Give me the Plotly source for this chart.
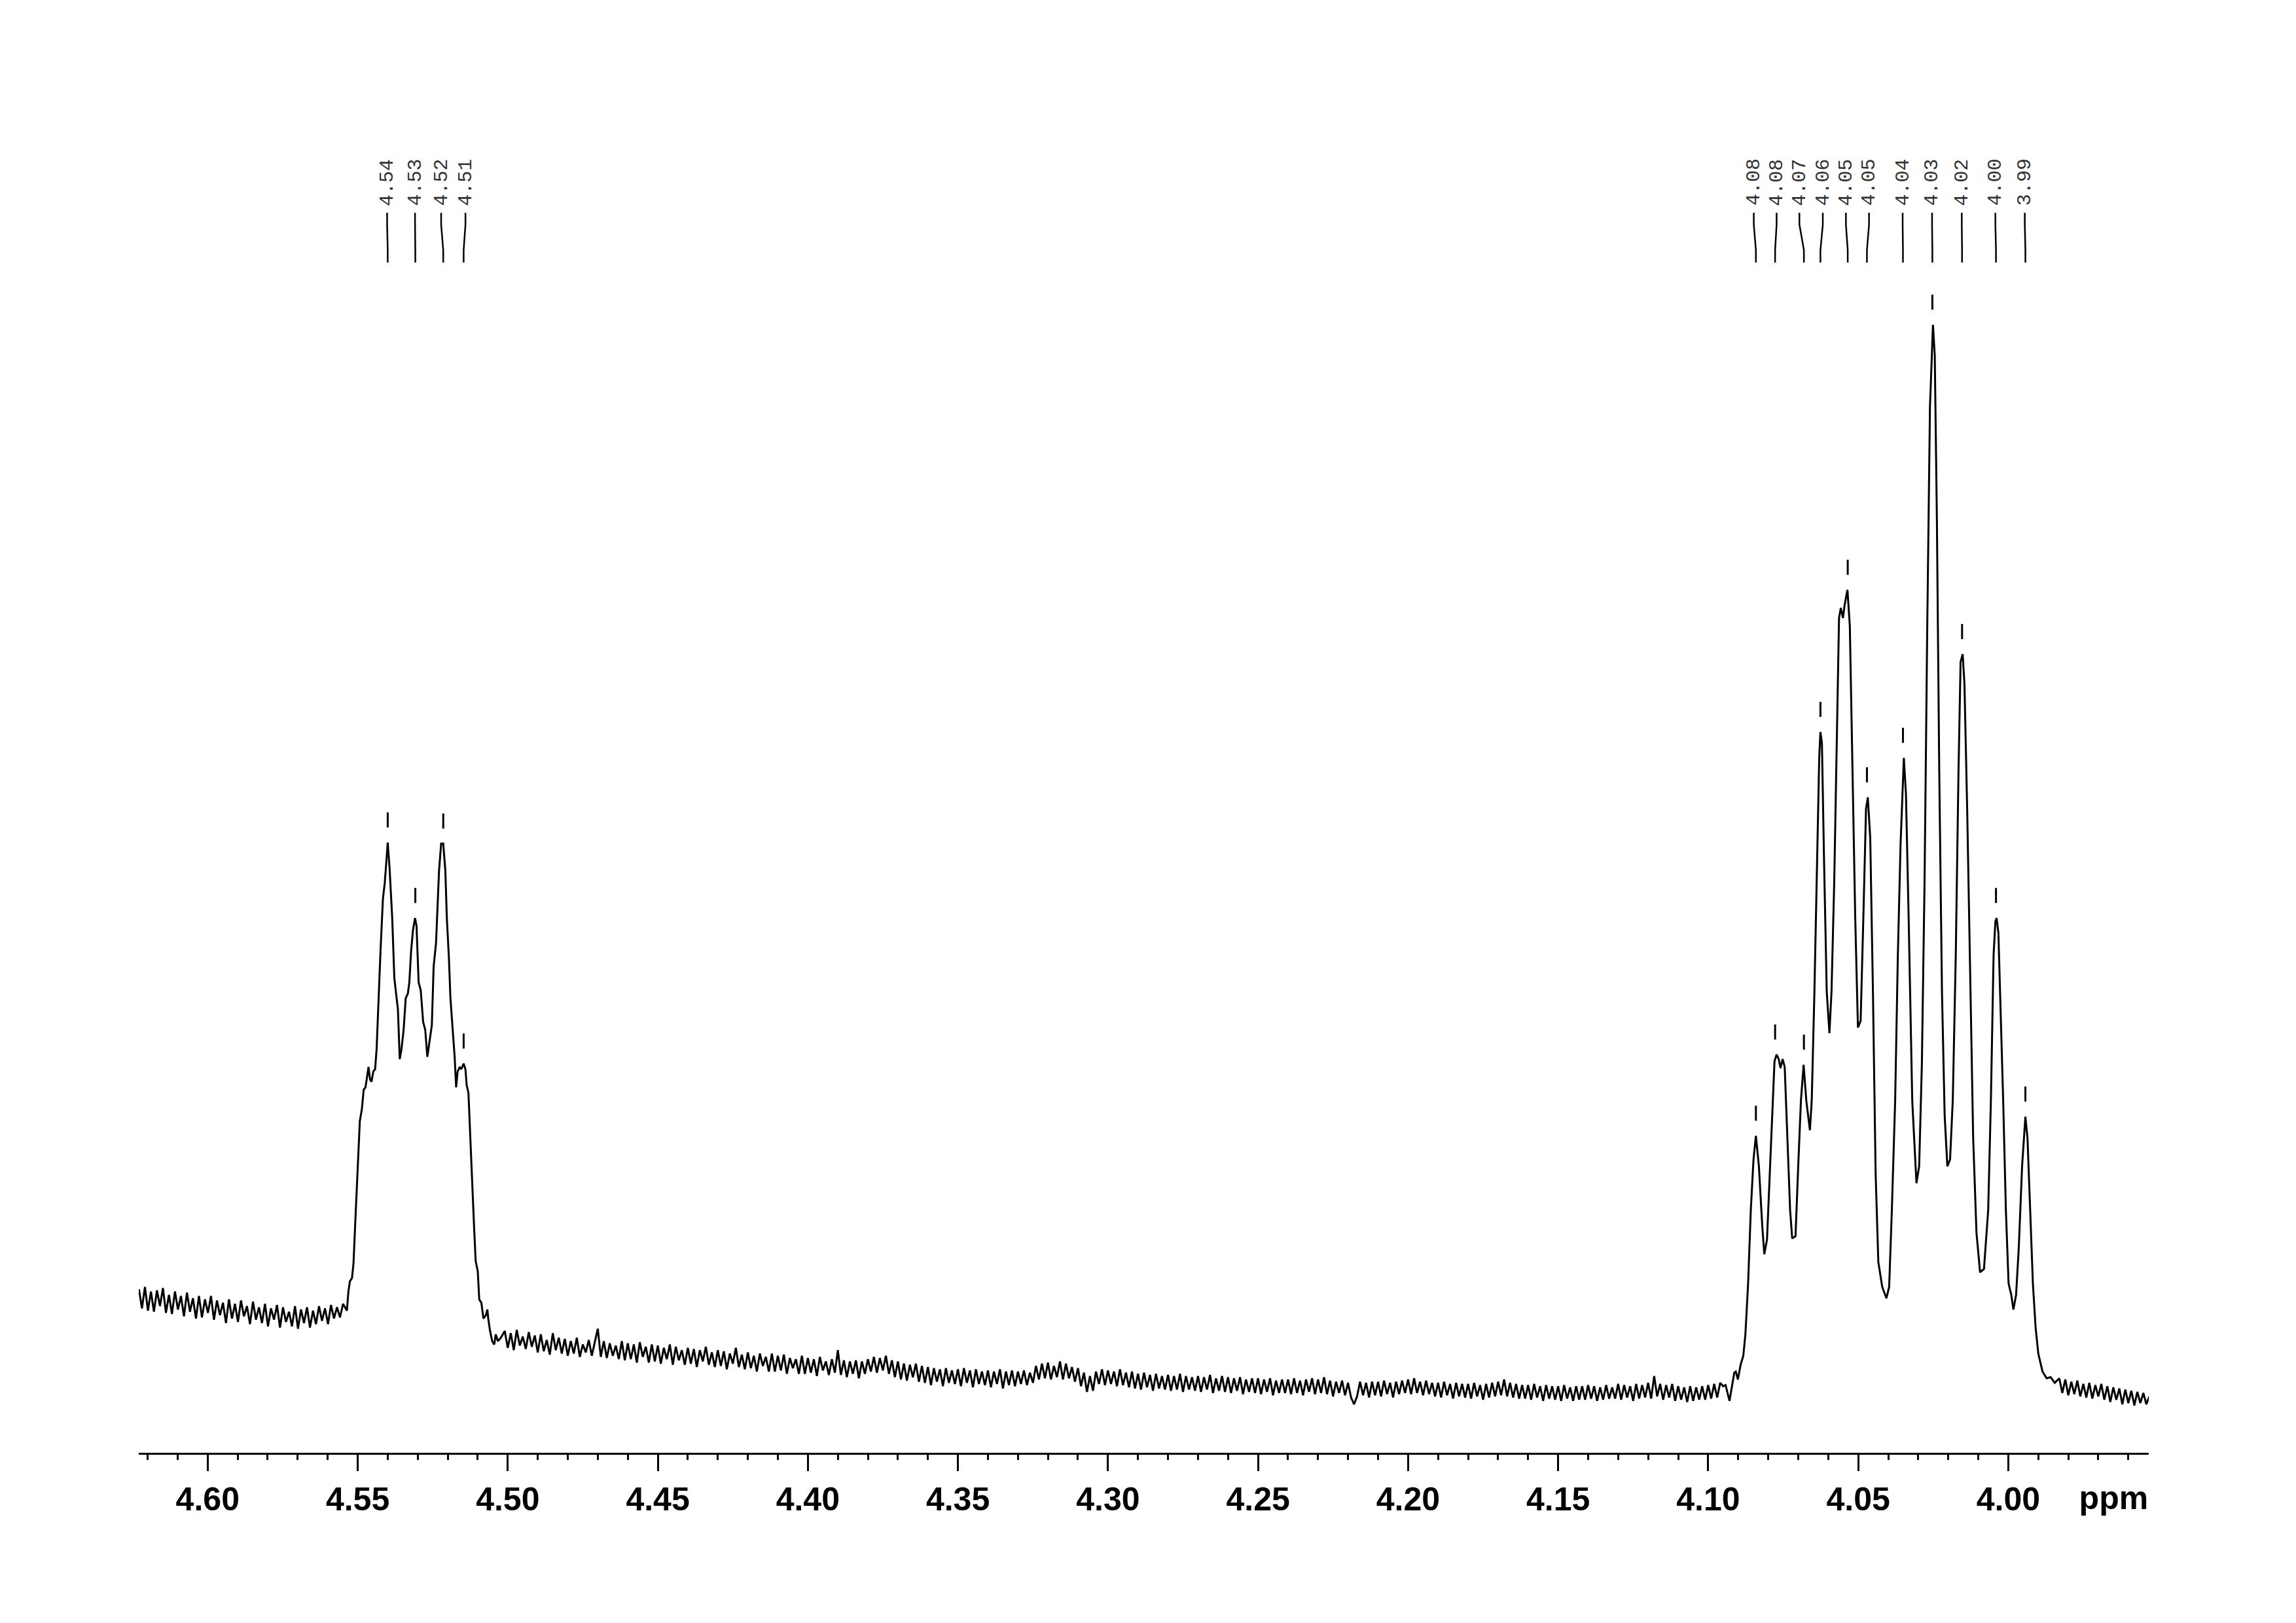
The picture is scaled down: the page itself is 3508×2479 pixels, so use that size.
import numpy as np
import plotly.graph_objects as go

# ---------------- data ----------------
# left baseline (ppm grid 4.6229 -> 4.5549, 0.001 ppm spacing), intensities
left_base_start, left_base_n = 4.6229, 69
left_base = [14.5, 12.8, 14.7, 12.6, 14.3, 12.5, 14.4, 13.0, 14.6, 12.4,
             14.0, 12.3, 14.3, 12.7, 13.9, 12.1, 14.2, 12.5, 13.7, 11.9,
             13.9, 12.0, 13.6, 12.4, 13.9, 11.8, 13.5, 12.2, 13.3, 11.5,
             13.6, 11.9, 13.2, 11.6, 13.5, 12.1, 13.0, 11.4, 13.4, 11.8,
             12.9, 11.5, 13.2, 11.2, 12.8, 11.8, 13.1, 11.1, 12.9, 11.6,
             12.5, 11.2, 13.0, 11.0, 12.7, 11.5, 12.9, 11.1, 12.6, 11.4,
             13.0, 11.7, 12.8, 11.4, 13.1, 11.9, 12.9, 12.0, 13.2]

# multiplet at 4.51-4.55 ppm
mult1_ppm = [4.5536, 4.5531, 4.5526, 4.5519, 4.5514, 4.5509, 4.5503, 4.5498, 4.5493, 4.5486,
             4.5480, 4.5474, 4.5469, 4.5464, 4.5459, 4.5454, 4.5448, 4.5442, 4.5437, 4.5431,
             4.5424, 4.5416, 4.5410, 4.5404, 4.5400, 4.5394, 4.5389, 4.5385, 4.5378, 4.5371,
             4.5366, 4.5360, 4.5354, 4.5347, 4.5340, 4.5333, 4.5328, 4.5322, 4.5316, 4.5309,
             4.5304, 4.5297, 4.5290, 4.5282, 4.5275, 4.5268, 4.5261, 4.5253, 4.5247, 4.5239,
             4.5229, 4.5222, 4.5215, 4.5208, 4.5203, 4.5196, 4.5191, 4.5183, 4.5177, 4.5172,
             4.5167, 4.5160, 4.5155, 4.5147, 4.5141, 4.5137, 4.5131, 4.5126, 4.5121, 4.5116,
             4.5112, 4.5107, 4.5100, 4.5095, 4.5088, 4.5081, 4.5073, 4.5068, 4.5065, 4.5059,
             4.5052, 4.5045, 4.5040, 4.5033, 4.5023]
mult1_int = [12.6, 14.3, 15.2, 15.5, 16.8, 19.9, 23.5, 27.0, 29.4, 30.5,
             32.2, 32.4, 33.3, 34.2, 33.1, 32.9, 33.8, 34.0, 35.8, 40.3,
             44.5, 49.1, 50.5, 52.6, 54.1, 51.9, 49.1, 47.4, 42.1, 40.3,
             39.3, 34.9, 35.8, 37.5, 40.3, 40.7, 41.7, 44.5, 46.3, 47.4,
             46.7, 41.7, 41.0, 38.2, 37.5, 35.1, 36.5, 37.9, 43.1, 45.2,
             51.6, 54.0, 54.0, 51.6, 47.4, 43.8, 40.3, 37.5, 35.1, 32.4,
             33.8, 34.2, 34.0, 34.5, 34.0, 32.6, 31.9, 28.7, 25.2, 21.7,
             19.9, 17.0, 16.1, 13.6, 13.3, 11.9, 12.2, 12.7, 11.9, 10.8,
             9.9, 9.6, 10.5, 9.9, 10.2]

# middle baseline (ppm grid 4.501 -> 4.096, 0.001 ppm spacing)
mid_base_start, mid_base_n = 4.501, 406
mid_base = [10.8, 9.3, 10.6, 9.1, 10.9, 9.5, 10.3, 9.2, 10.7, 9.4,
            10.4, 8.9, 10.5, 9.0, 10.0, 8.7, 10.6, 9.1, 10.2, 8.8,
            10.1, 8.6, 9.9, 8.8, 10.2, 8.5, 9.6, 8.9, 10.0, 8.6,
            9.8, 11.0, 8.5, 9.9, 8.4, 9.7, 8.6, 9.5, 8.3, 9.9,
            8.2, 9.7, 8.3, 9.6, 8.0, 9.8, 8.5, 9.4, 8.0, 9.6,
            8.1, 9.5, 7.9, 9.3, 8.3, 9.6, 7.8, 9.4, 8.2, 9.1,
            7.8, 9.3, 7.9, 9.2, 7.6, 9.1, 8.1, 9.4, 7.8, 8.9,
            7.6, 9.1, 7.7, 9.0, 7.4, 8.8, 7.9, 9.3, 7.6, 8.7,
            7.4, 8.9, 7.5, 8.6, 7.2, 8.8, 7.7, 8.5, 7.2, 8.8,
            7.2, 8.6, 7.3, 8.7, 7.0, 8.4, 7.5, 8.3, 7.0, 8.6,
            7.0, 8.4, 7.1, 8.3, 6.8, 8.5, 7.3, 8.1, 6.9, 8.3,
            7.1, 9.1, 6.9, 8.2, 6.7, 8.1, 7.0, 8.2, 6.6, 8.1,
            7.0, 8.3, 7.2, 8.5, 7.1, 8.4, 7.3, 8.6, 7.0, 8.2,
            6.7, 8.1, 6.5, 7.9, 6.4, 7.8, 6.7, 7.9, 6.3, 7.7,
            6.2, 7.6, 6.0, 7.5, 6.3, 7.4, 5.9, 7.5, 6.2, 7.3,
            6.1, 7.4, 5.9, 7.5, 6.2, 7.3, 5.8, 7.4, 6.1, 7.2,
            6.0, 7.3, 5.8, 7.2, 6.1, 7.4, 5.7, 7.2, 6.0, 7.3,
            5.9, 7.2, 6.1, 7.3, 6.0, 7.1, 6.2, 7.7, 6.5, 7.9,
            6.6, 8.0, 6.5, 7.7, 6.7, 8.1, 6.5, 7.9, 6.6, 7.6,
            6.3, 7.5, 5.9, 7.1, 5.4, 6.8, 5.5, 7.2, 6.1, 7.4,
            6.0, 7.3, 6.1, 7.2, 5.9, 7.4, 6.0, 7.1, 5.8, 7.2,
            5.7, 7.0, 5.6, 7.1, 5.8, 6.9, 5.5, 7.0, 5.7, 6.8,
            5.6, 6.9, 5.5, 6.8, 5.6, 7.0, 5.4, 6.8, 5.6, 6.7,
            5.5, 6.8, 5.4, 6.7, 5.6, 6.9, 5.3, 6.6, 5.5, 6.8,
            5.4, 6.7, 5.3, 6.6, 5.5, 6.7, 5.2, 6.5, 5.4, 6.6,
            5.3, 6.6, 5.2, 6.5, 5.4, 6.6, 5.1, 6.4, 5.3, 6.5,
            5.3, 6.5, 5.2, 6.6, 5.3, 6.4, 5.1, 6.5, 5.4, 6.6,
            5.2, 6.5, 5.3, 6.7, 5.2, 6.4, 5.0, 6.3, 5.3, 6.4,
            5.1, 6.2, 4.9, 4.3, 5.0, 6.3, 5.1, 6.2, 4.9, 6.3,
            5.1, 6.3, 5.0, 6.4, 5.2, 6.2, 4.9, 6.3, 5.2, 6.4,
            5.3, 6.5, 5.2, 6.6, 5.3, 6.3, 5.1, 6.4, 5.2, 6.2,
            5.0, 6.2, 4.9, 6.3, 5.1, 6.1, 4.8, 6.2, 5.0, 6.1,
            4.9, 6.1, 4.8, 6.2, 5.0, 6.0, 4.7, 6.1, 4.9, 6.2,
            5.0, 6.3, 5.1, 6.5, 5.0, 6.2, 4.9, 6.1, 4.8, 6.0,
            4.8, 6.0, 4.7, 6.1, 4.9, 5.9, 4.6, 6.0, 4.8, 5.9,
            4.7, 5.9, 4.6, 6.0, 4.8, 5.8, 4.6, 5.9, 4.7, 5.9,
            4.7, 6.0, 4.8, 5.9, 4.6, 5.8, 4.7, 6.0, 4.8, 5.8,
            4.8, 6.1, 4.7, 6.0, 4.9, 5.9, 4.6, 6.1, 4.8, 6.0,
            4.9, 6.2, 4.8, 6.8, 5.0, 6.1, 4.7, 6.0, 4.9, 6.1,
            4.6, 5.9, 4.7, 5.8, 4.5, 5.9, 4.6, 5.8, 4.7, 5.9,
            4.7, 6.0, 4.8, 6.1, 4.9, 6.2]

# multiplet at 3.99-4.09 ppm
mult2_ppm = [4.0950, 4.0942, 4.0929, 4.0913, 4.0908, 4.0901, 4.0892, 4.0883, 4.0876, 4.0867,
             4.0858, 4.0849, 4.0841, 4.0831, 4.0820, 4.0813, 4.0804, 4.0795, 4.0786, 4.0779,
             4.0772, 4.0765, 4.0759, 4.0752, 4.0745, 4.0736, 4.0727, 4.0720, 4.0709, 4.0700,
             4.0691, 4.0682, 4.0673, 4.0661, 4.0655, 4.0646, 4.0637, 4.0630, 4.0626, 4.0621,
             4.0614, 4.0605, 4.0596, 4.0589, 4.0580, 4.0572, 4.0564, 4.0558, 4.0551, 4.0545,
             4.0536, 4.0528, 4.0519, 4.0510, 4.0501, 4.0492, 4.0483, 4.0474, 4.0468, 4.0460,
             4.0451, 4.0442, 4.0433, 4.0420, 4.0406, 4.0397, 4.0388, 4.0377, 4.0368, 4.0359,
             4.0348, 4.0341, 4.0332, 4.0320, 4.0306, 4.0297, 4.0288, 4.0279, 4.0270, 4.0261,
             4.0251, 4.0245, 4.0238, 4.0230, 4.0221, 4.0212, 4.0203, 4.0194, 4.0185, 4.0175,
             4.0166, 4.0159, 4.0152, 4.0146, 4.0137, 4.0126, 4.0117, 4.0106, 4.0094, 4.0081,
             4.0067, 4.0058, 4.0049, 4.0043, 4.0039, 4.0033, 4.0027, 4.0017, 4.0008, 3.9999,
             3.9990, 3.9983, 3.9974, 3.9965, 3.9954, 3.9943, 3.9936, 3.9927, 3.9918, 3.9909,
             3.9900, 3.9886, 3.9872, 3.9859, 3.9845]
mult2_int = [5.9, 6.0, 4.6, 7.1, 7.2, 6.5, 7.8, 8.6, 10.5, 15.0,
             21.5, 26.0, 28.1, 25.4, 20.2, 17.6, 18.9, 24.7, 31.2, 34.7,
             35.3, 34.9, 34.1, 34.9, 34.2, 27.9, 21.5, 19.0, 19.2, 25.4,
             31.2, 34.4, 31.2, 28.6, 31.2, 40.9, 52.6, 61.6, 63.9, 62.9,
             52.6, 40.9, 37.2, 40.9, 50.6, 63.6, 74.0, 74.9, 74.0, 75.2,
             76.5, 73.3, 60.3, 47.4, 37.7, 38.3, 47.4, 57.1, 58.1, 54.5,
             40.9, 24.7, 16.9, 14.7, 13.7, 14.7, 21.5, 31.2, 44.1, 53.9,
             61.6, 58.4, 47.4, 31.2, 23.9, 25.4, 34.4, 50.6, 73.3, 92.7,
             100.0, 97.3, 83.0, 60.3, 40.9, 29.9, 25.4, 26.0, 31.2, 44.1,
             60.3, 70.1, 70.8, 68.1, 57.1, 40.9, 27.9, 19.5, 16.0, 16.3,
             21.5, 31.2, 44.1, 47.1, 47.4, 46.1, 40.9, 31.2, 21.5, 15.0,
             14.0, 12.7, 14.0, 18.2, 25.4, 29.8, 27.9, 21.5, 15.0, 11.1,
             8.8, 7.2, 6.6, 6.7, 6.2]

# right tail baseline (ppm grid 3.983 -> 3.953, 0.001 ppm spacing)
tail_base_start, tail_base_n = 3.983, 31
tail_base = [6.6, 5.3, 6.5, 5.1, 6.3, 5.2, 6.4, 5.0, 6.1, 4.9,
             6.2, 4.8, 6.0, 5.0, 6.1, 4.7, 5.9, 4.5, 5.8, 4.7,
             5.7, 4.3, 5.6, 4.4, 5.5, 4.2, 5.4, 4.4, 5.3, 4.3, 5.0]

# peak picking
peak_ppm = [4.5400, 4.5308, 4.5215, 4.5147, 4.0841, 4.0777, 4.0681, 4.0626, 4.0535,
            4.0471, 4.0351, 4.0253, 4.0154, 4.0041, 3.9943]
peak_height = [54.1, 47.4, 54.0, 34.5, 28.1, 35.3, 34.4, 63.9, 76.5,
               58.1, 61.6, 100.0, 70.8, 47.4, 29.8]
peak_label = ["4.54", "4.53", "4.52", "4.51", "4.08", "4.08", "4.07", "4.06", "4.05",
              "4.05", "4.04", "4.03", "4.02", "4.00", "3.99"]

# ---------------- layout constants ----------------
label_pos = [4.5402, 4.5309, 4.5222, 4.5141, 4.0848, 4.0772, 4.0696, 4.0618, 4.0541,
             4.0464, 4.0352, 4.0254, 4.0155, 4.0043, 3.9945]
X_RANGE = [4.62296, 3.95320]
W, H = 3508, 2479
M_L, M_R, M_T, M_B = 212, 225, 100, 260
PX_PER_UNIT = 17.23
plot_h = H - M_T - M_B
Y_RANGE = [0, plot_h / PX_PER_UNIT]


def ypaper(py):
    return (H - M_B - py) / plot_h


# ---------------- assemble spectrum ----------------
def grid(start, n):
    return list(np.round(start - 0.001 * np.arange(n), 4))

ppm = grid(left_base_start, left_base_n) + mult1_ppm + grid(mid_base_start, mid_base_n) \
    + mult2_ppm + grid(tail_base_start, tail_base_n)
inten = left_base + mult1_int + mid_base + mult2_int + tail_base

fig = go.Figure()
fig.add_trace(go.Scatter(x=ppm, y=inten, mode="lines",
                         line=dict(color="black", width=3), hoverinfo="skip",
                         showlegend=False))

# peak markers above each picked peak
gap = 23 / PX_PER_UNIT
mlen = 23 / PX_PER_UNIT
mx, my = [], []
for p, h in zip(peak_ppm, peak_height):
    mx += [p, p, None]
    my += [h + gap, h + gap + mlen, None]
fig.add_trace(go.Scatter(x=mx, y=my, mode="lines", line=dict(color="black", width=3),
                         hoverinfo="skip", showlegend=False))

# invisible trace for the secondary axis carrying the "ppm" unit label
fig.add_trace(go.Scatter(x=[None], y=[None], xaxis="x2", showlegend=False, hoverinfo="skip"))

# label connectors and rotated labels
ya, yb, yc, yd = ypaper(325), ypaper(343), ypaper(382), ypaper(401)
shapes = []
annotations = []
for lp, p, lab in zip(label_pos, peak_ppm, peak_label):
    shapes.append(dict(type="path", xref="x", yref="paper",
                       path=f"M {lp},{ya} L {lp},{yb} L {p},{yc} L {p},{yd}",
                       line=dict(color="black", width=2.5)))
    annotations.append(dict(x=lp, y=ypaper(278.5), xref="x", yref="paper", text=lab,
                            textangle=-90, showarrow=False, xanchor="center", yanchor="middle",
                            font=dict(family="Liberation Mono", size=30, color="#333333")))

tickfont = dict(family="Liberation Sans, Arial, sans-serif", size=50, color="black", weight="bold")

fig.update_layout(
    width=W, height=H,
    margin=dict(l=M_L, r=M_R, t=M_T, b=M_B, pad=0),
    paper_bgcolor="white", plot_bgcolor="white",
    shapes=shapes, annotations=annotations,
    xaxis=dict(range=X_RANGE, showgrid=False, zeroline=False,
               showline=True, linecolor="black", linewidth=3,
               ticks="outside", ticklen=25, tickwidth=3, tickcolor="black",
               tickmode="linear", tick0=4.0, dtick=0.05, tickformat=".2f",
               tickfont=tickfont, ticklabelstandoff=0,
               minor=dict(ticks="outside", ticklen=8, tickwidth=3, tickcolor="black",
                          tickmode="linear", tick0=4.0, dtick=0.01, showgrid=False)),
    xaxis2=dict(range=X_RANGE, overlaying="x", anchor="y", side="bottom",
                showgrid=False, zeroline=False, showline=False,
                ticks="outside", ticklen=25, tickwidth=3, tickcolor="rgba(0,0,0,0)",
                tickmode="array", tickvals=[3.9649], ticktext=["ppm"],
                tickfont=tickfont, ticklabelstandoff=0),
    yaxis=dict(range=Y_RANGE, visible=False, showgrid=False, zeroline=False),
    showlegend=False,
)

fig.write_html("out.html", config={"displayModeBar": False},
               post_script="document.body.style.margin='0';document.body.style.overflow='hidden';")
